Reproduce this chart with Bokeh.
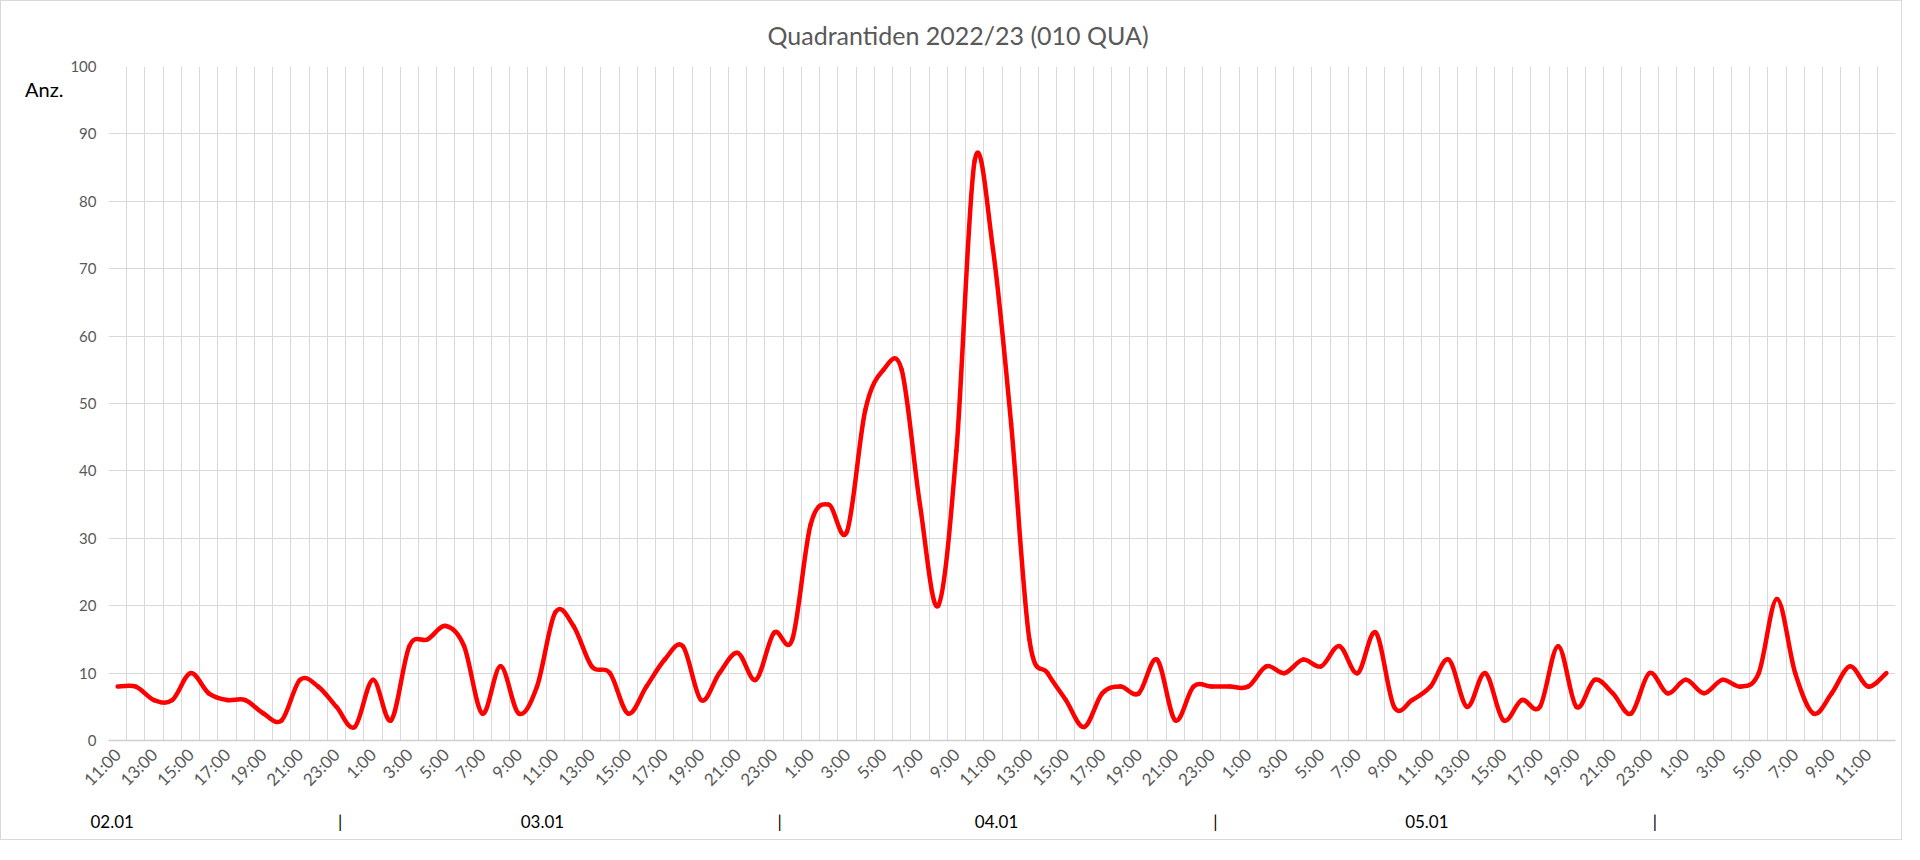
import numpy as np
from bokeh.plotting import figure
from bokeh.models import Range1d, FixedTicker, LinearAxis, Grid, ColumnDataSource
from bokeh.embed import file_html
from bokeh.resources import INLINE

# ---------------- data ----------------
chart_title = "Quadrantiden 2022/23  (010 QUA)"
y_label = "Anz."

# hourly counts, 02.01 11:00 ... 06.01 12:00
counts = [
    8, 8, 6, 6, 10, 7, 6, 6, 4, 3, 9, 8, 5, 2,          # 02.01 11:00-0:00
    9, 3, 14, 15, 17, 14, 4, 11, 4, 8, 19, 17,          # 03.01 1:00-12:00
    11, 10, 4, 8, 12, 14, 6, 10, 13, 9, 16, 15,         # 03.01 13:00-0:00
    32, 35, 31, 49, 55, 55, 35, 20, 43, 86, 73, 47,     # 04.01 1:00-12:00
    15, 10, 6, 2, 7, 8, 7, 12, 3, 8, 8, 8,              # 04.01 13:00-0:00
    8, 11, 10, 12, 11, 14, 10, 16, 5, 6, 8, 12,         # 05.01 1:00-12:00
    5, 10, 3, 6, 5, 14, 5, 9, 7, 4, 10, 7,              # 05.01 13:00-0:00
    9, 7, 9, 8, 10, 21, 10, 4, 7, 11, 8, 10,            # 06.01 1:00-12:00
]

tick_labels = [
    "11:00", "13:00", "15:00", "17:00", "19:00", "21:00", "23:00",
    "1:00", "3:00", "5:00", "7:00", "9:00", "11:00", "13:00", "15:00", "17:00", "19:00", "21:00", "23:00",
    "1:00", "3:00", "5:00", "7:00", "9:00", "11:00", "13:00", "15:00", "17:00", "19:00", "21:00", "23:00",
    "1:00", "3:00", "5:00", "7:00", "9:00", "11:00", "13:00", "15:00", "17:00", "19:00", "21:00", "23:00",
    "1:00", "3:00", "5:00", "7:00", "9:00", "11:00",
]

day_labels = ["02.01", "|", "03.01", "|", "04.01", "|", "05.01", "|"]
day_label_hours = [-0.3, 12.2, 23.3, 36.3, 48.2, 60.2, 71.8, 84.3]

y_ticks = [0, 10, 20, 30, 40, 50, 60, 70, 80, 90, 100]
y_label_level = 96.7

# ---------------- smoothing (Bezier segments from the data) ----------------
n = len(counts)
xs = np.arange(n, dtype=float)
ys = np.array(counts, dtype=float)
xp = np.concatenate([[xs[0]], xs, [xs[-1]]])
yp = np.concatenate([[ys[0]], ys, [ys[-1]]])
k = np.arange(n - 1)
seg = dict(
    x0=xs[:-1], y0=ys[:-1], x1=xs[1:], y1=ys[1:],
    cx0=xs[:-1] + (xp[k + 2] - xp[k]) / 6.0,
    cy0=ys[:-1] + (yp[k + 2] - yp[k]) / 6.0,
    cx1=xs[1:] - (xp[k + 3] - xp[k + 1]) / 6.0,
    cy1=ys[1:] - (yp[k + 3] - yp[k + 1]) / 6.0,
)
src = ColumnDataSource(seg)

FONT = "Lato"
GRID = "#d9d9d9"
GREY = "#595959"

p = figure(
    width=1902, height=840,
    x_range=Range1d(-0.5, n - 0.5), y_range=Range1d(0, 100),
    output_backend="svg", toolbar_location=None,
    min_border_left=107, min_border_right=8, min_border_top=64, min_border_bottom=101,
    x_axis_type=None, y_axis_type=None,
)
p.styles = {"border": "1px solid #d9d9d9"}
p.outline_line_color = None
p.background_fill_color = "white"
p.border_fill_color = "white"

p.title.text = chart_title
p.title.align = "left"
p.title.offset = 659
p.title.text_font = FONT
p.title.text_font_size = "25px"
p.title.text_font_style = "normal"
p.title.text_color = GREY
p.title.standoff = 33

# grids
p.add_layout(Grid(dimension=0, ticker=FixedTicker(ticks=[i - 0.5 for i in range(n + 1)]),
                  grid_line_color=GRID, grid_line_width=1))
p.add_layout(Grid(dimension=1, ticker=FixedTicker(ticks=y_ticks),
                  grid_line_color=GRID, grid_line_width=1))

# bottom axis (hours)
xax = LinearAxis(ticker=FixedTicker(ticks=list(range(0, n, 2))))
xax.major_label_overrides = {i * 2: lab for i, lab in enumerate(tick_labels)}
xax.major_label_orientation = np.pi / 4
xax.axis_line_color = "#cfcfcf"
xax.axis_line_width = 1.5
xax.major_tick_line_color = None
xax.minor_tick_line_color = None
xax.major_tick_in = 0
xax.major_tick_out = 0
xax.major_label_standoff = 11
xax.major_label_text_font = FONT
xax.major_label_text_font_size = "17px"
xax.major_label_text_color = GREY
p.add_layout(xax, "below")

# day axis
p.extra_x_ranges = {"days": Range1d(-5, (n - 0.5) * 10)}
dticks = [int(round(h * 10)) for h in day_label_hours]
dax = LinearAxis(x_range_name="days", ticker=FixedTicker(ticks=dticks))
dax.major_label_overrides = {t: lab for t, lab in zip(dticks, day_labels)}
dax.axis_line_color = None
dax.major_tick_line_color = None
dax.minor_tick_line_color = None
dax.major_tick_in = 0
dax.major_tick_out = 0
dax.major_label_standoff = 10
dax.major_label_text_font = FONT
dax.major_label_text_font_size = "17px"
dax.major_label_text_color = "black"
p.add_layout(dax, "below")

# left axis
yax = LinearAxis(ticker=FixedTicker(ticks=y_ticks))
yax.axis_line_color = None
yax.major_tick_line_color = None
yax.minor_tick_line_color = None
yax.major_tick_in = 0
yax.major_tick_out = 0
yax.major_label_standoff = 12
yax.major_label_text_font = FONT
yax.major_label_text_font_size = "15px"
yax.major_label_text_color = GREY
p.add_layout(yax, "left")

# "Anz." unit label, left of the value labels
p.extra_y_ranges = {"unit": Range1d(0, 1000)}
uax = LinearAxis(y_range_name="unit", ticker=FixedTicker(ticks=[int(round(y_label_level * 10))]))
uax.major_label_overrides = {int(round(y_label_level * 10)): y_label}
uax.axis_line_color = None
uax.major_tick_line_color = None
uax.minor_tick_line_color = None
uax.major_tick_in = 0
uax.major_tick_out = 0
uax.major_label_standoff = 4
uax.major_label_text_font = FONT
uax.major_label_text_font_size = "20px"
uax.major_label_text_color = "black"
p.add_layout(uax, "left")

p.bezier(x0="x0", y0="y0", x1="x1", y1="y1", cx0="cx0", cy0="cy0", cx1="cx1", cy1="cy1",
         source=src, line_color="#ff0000", line_width=4.5, line_cap="round")

open("out.html", "w").write(file_html(p, INLINE))
